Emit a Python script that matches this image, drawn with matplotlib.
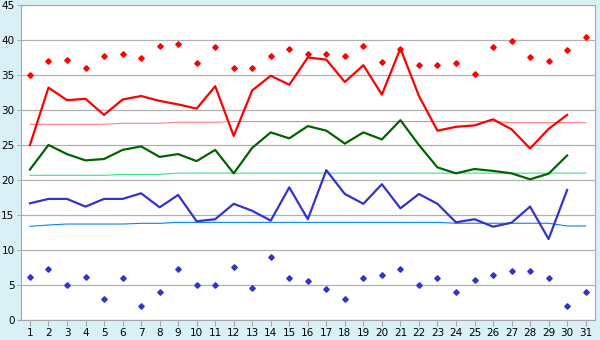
import numpy as np
import matplotlib.pyplot as plt

days = np.arange(1, 32)

# daily max / mean / min (day 31 missing)
t_max = [25.0, 33.2, 31.4, 31.6, 29.3, 31.5, 32.0, 31.3, 30.8, 30.2,
         33.4, 26.3, 32.8, 34.9, 33.6, 37.5, 37.2, 34.0, 36.4, 32.2,
         38.8, 32.0, 27.05, 27.6, 27.8, 28.67, 27.25, 24.5, 27.3, 29.3, np.nan]
t_mean = [21.5, 25.0, 23.7, 22.8, 23.0, 24.3, 24.8, 23.3, 23.7, 22.7,
          24.3, 20.95, 24.6, 26.8, 25.95, 27.7, 27.05, 25.2, 26.8, 25.8,
          28.55, 25.0, 21.8, 20.95, 21.57, 21.3, 20.95, 20.1, 20.9, 23.5, np.nan]
t_min = [16.67, 17.3, 17.3, 16.2, 17.3, 17.3, 18.1, 16.1, 17.86, 14.1,
         14.4, 16.6, 15.6, 14.2, 18.95, 14.4, 21.4, 18.0, 16.6, 19.4,
         15.95, 18.0, 16.6, 13.95, 14.4, 13.33, 13.9, 16.2, 11.57, 18.57, np.nan]

# record values
rec_max = [35.0, 37.0, 37.1, 36.0, 37.7, 38.0, 37.4, 39.1, 39.4, 36.7,
           39.0, 36.0, 36.0, 37.7, 38.7, 37.95, 38.0, 37.7, 39.1, 36.9,
           38.7, 36.4, 36.4, 36.7, 35.1, 38.95, 39.8, 37.5, 36.95, 38.5, 40.4]
rec_min = [6.1, 7.24, 4.95, 6.1, 2.95, 5.95, 1.95, 3.95, 7.24, 4.95,
           4.95, 7.52, 4.52, 8.95, 5.95, 5.52, 4.38, 2.95, 5.95, 6.38,
           7.24, 4.95, 5.95, 3.95, 5.67, 6.38, 7.0, 7.0, 5.95, 1.95, 3.95]

# normals
norm_max = [27.95] * 5 + [28.1] * 3 + [28.25] * 3 + [28.35] * 15 + [28.2] * 5
norm_mean = [20.67] * 5 + [20.81] * 3 + [20.98] * 23
norm_min = [13.38, 13.57, 13.71, 13.71, 13.71, 13.71, 13.81, 13.81] + \
           [13.95] * 15 + [13.82] * 6 + [13.43] * 2

bg = '#d9f0f7'
fig = plt.figure(figsize=(6, 3.4), dpi=100, facecolor=bg)
ax = fig.add_axes([0.0345, 0.0588, 0.957, 0.9265])
ax.set_facecolor('white')

ax.plot(days, norm_max, color='#ff7f7f', lw=0.8, zorder=2)
ax.plot(days, norm_mean, color='#2ee68a', lw=0.8, zorder=2)
ax.plot(days, norm_min, color='#0a80ff', lw=0.8, zorder=2)

ax.plot(days, t_max, color='#ff0000', lw=1.6, zorder=3)
ax.plot(days, t_mean, color='#006400', lw=1.6, zorder=3)
ax.plot(days, t_min, color='#3333cc', lw=1.6, zorder=3)

ax.plot(days, rec_max, ls='none', marker='D', ms=2.8, color='#ff0000', zorder=4)
ax.plot(days, rec_min, ls='none', marker='D', ms=2.8, color='#3333cc', zorder=4)

ax.set_xlim(0.5, 31.5)
ax.set_ylim(0, 45)
ax.set_xticks(days)
ax.set_yticks(np.arange(0, 46, 5))
ax.yaxis.grid(True, color='#b0b0b0', lw=0.9)
ax.set_axisbelow(True)
for s in ax.spines.values():
    s.set_color('#a8a8a8')
ax.tick_params(axis='both', colors='#a8a8a8', labelcolor='black', labelsize=7.5,
               length=3, pad=1.5)
ax.tick_params(axis='x', length=4, pad=2)

fig.savefig('out.png', dpi=100, facecolor=bg)
